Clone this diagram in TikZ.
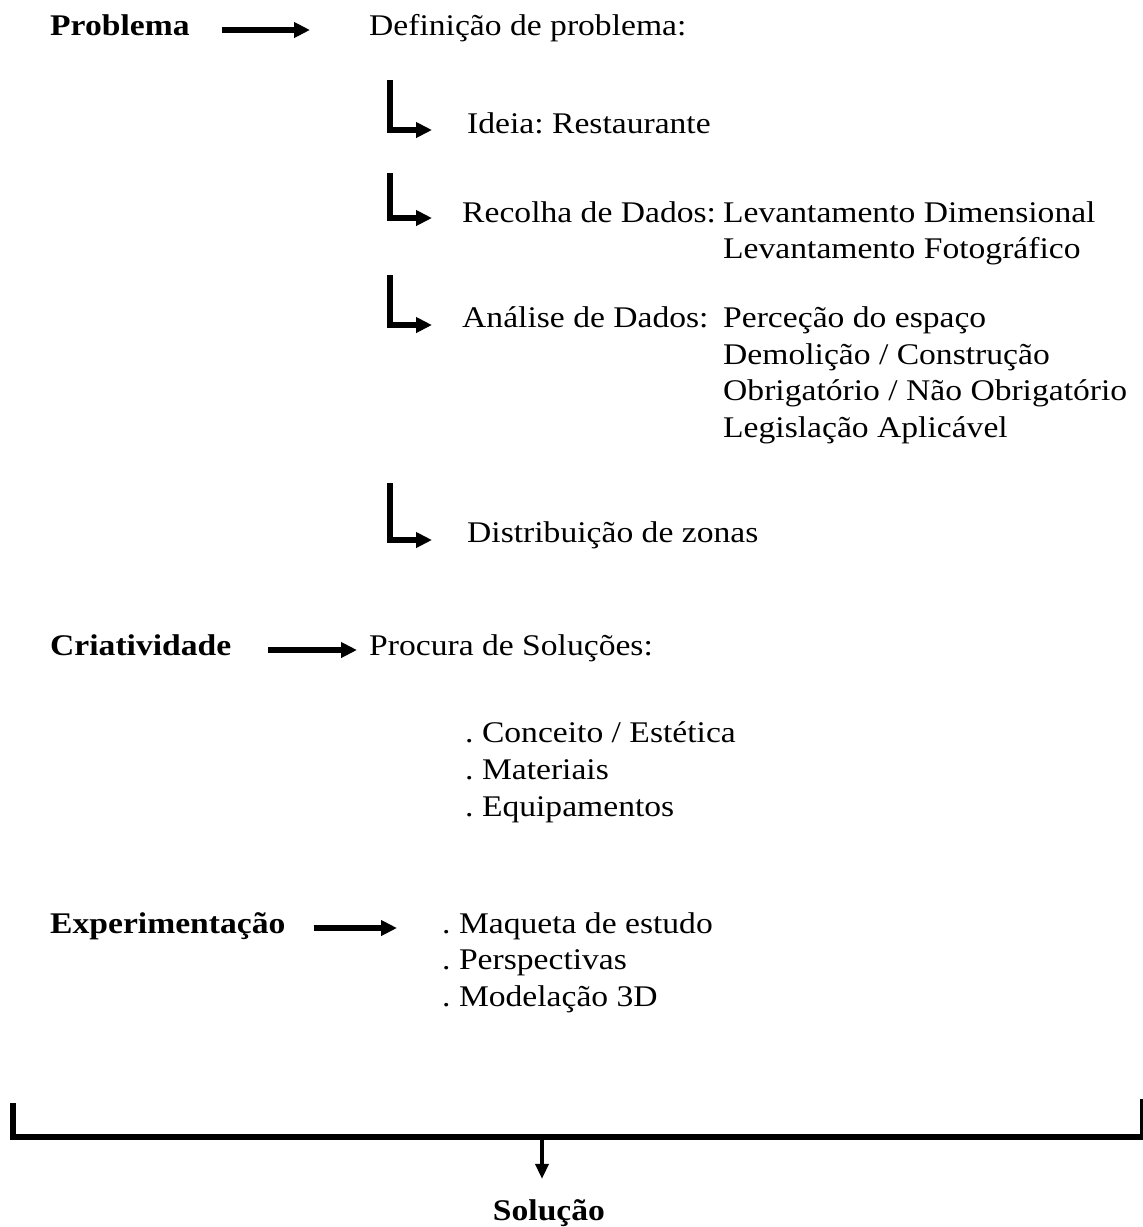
\documentclass[tikz,border=0pt]{standalone}
\usepackage{fontspec}
\setmainfont{Liberation Serif}[FakeStretch=1.12]
\usetikzlibrary{arrows.meta}
\frenchspacing
\begin{document}
\begin{tikzpicture}[x=1pt,y=-1pt]
            \tikzstyle{every node}+=[inner sep=0pt,anchor=base west,font=\fontsize{30}{36}\selectfont]
            \tikzstyle{head}=[font=\fontsize{30}{36}\selectfont\bfseries]
            \tikzstyle{flow}=[line width=5.5pt,-{Triangle[length=16pt,width=15pt]}]
            \tikzstyle{branch}=[line width=6pt,-{Triangle[length=16pt,width=15pt]}]
            \useasboundingbox (0,0) rectangle (1143,1227);
                % Problema
                \draw (50,35) node[head] (prob) {Problema};
                \draw (369,35) node (def) {Definição de problema:};
                \draw [flow,shorten <=32pt,shorten >=59pt] ([yshift=5pt]prob.base east) -- ([yshift=5pt]def.base west);
                \coordinate (c1) at (390,80);
                \draw (467,133) node (idea) {Ideia: Restaurante};
                \draw [branch,shorten >=35pt] (c1) |- ([yshift=3pt]idea.base west);
                \coordinate (c2) at (390,173);
                \draw (462,222) node (rec) {Recolha de Dados:};
                \draw (723,222) node (lev1) {Levantamento Dimensional};
                \draw (723,258) node (lev2) {Levantamento Fotográfico};
                \draw [branch,shorten >=30pt] (c2) |- ([yshift=4pt]rec.base west);
                \coordinate (c3) at (390,275);
                \draw (462,327) node (ana) {Análise de Dados:};
                \draw (723,327) node (an1) {Perceção do espaço};
                \draw (723,364) node (an2) {Demolição / Construção};
                \draw (723,400) node (an3) {Obrigatório / Não Obrigatório};
                \draw (723,437) node (an4) {Legislação Aplicável};
                \draw [branch,shorten >=30pt] (c3) |- ([yshift=2pt]ana.base west);
                \coordinate (c4) at (390,483);
                \draw (467,542) node (dist) {Distribuição de zonas};
                \draw [branch,shorten >=35pt] (c4) |- ([yshift=2pt]dist.base west);
                % Criatividade
                \draw (50,655) node[head] (cri) {Criatividade};
                \draw (369,655) node (proc) {Procura de Soluções:};
                \draw [flow,shorten <=37pt,shorten >=12pt] ([yshift=5pt]cri.base east) -- ([yshift=5pt]proc.base west);
                \draw (465,742) node (so1) {. Conceito / Estética};
                \draw (465,779) node (so2) {. Materiais};
                \draw (465,816) node (so3) {. Equipamentos};
                % Experimentacao
                \draw (50,933) node[head] (exp) {Experimentação};
                \draw (442,933) node (ex1) {. Maqueta de estudo};
                \draw (442,969) node (ex2) {. Perspectivas};
                \draw (442,1006) node (ex3) {. Modelação 3D};
                \draw [flow,shorten <=28pt,shorten >=45pt] ([yshift=5pt]exp.base east) -- ([yshift=5pt]ex1.base west);
                % Solucao
                \coordinate (bl) at (13,1103);
                \coordinate (bm) at (542,1137);
                \coordinate (br) at (1143,1099);
                \draw [line width=6pt] (bl) |- (bm) -| (br);
                \draw (549,1220) node[head,anchor=base] (sol) {Solução};
                \draw [line width=3.5pt,-{Triangle[length=15pt,width=13pt]},shorten >=20pt] (bm) -- (bm |- sol.north);
\end{tikzpicture}
\end{document}
